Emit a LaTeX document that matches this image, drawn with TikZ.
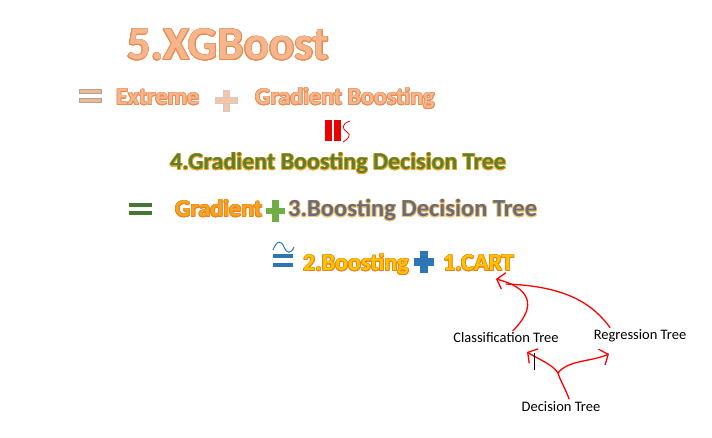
\documentclass[tikz,border=0pt]{standalone}
\usepackage{fontspec}
\setmainfont{Carlito}
\usepackage{contour}
\contourlength{0.7pt}
\usetikzlibrary{positioning,calc,arrows.meta}

\definecolor{peach}{RGB}{245,182,142}
\definecolor{peachline}{RGB}{232,140,82}
\definecolor{gbdtgreen}{RGB}{84,130,53}
\definecolor{gradorange}{RGB}{246,165,35}
\definecolor{orangeline}{RGB}{235,130,30}
\definecolor{slate}{RGB}{98,108,130}
\definecolor{cartyellow}{RGB}{255,196,0}
\definecolor{plusgreen}{RGB}{112,173,71}
\definecolor{eqgreen}{RGB}{70,120,50}
\definecolor{bluemark}{RGB}{46,117,182}
\definecolor{redmark}{RGB}{235,0,0}

\begin{document}
\begin{tikzpicture}[x=1pt,y=-1pt,
	word/.style={inner sep=0pt,anchor=base west,font=\bfseries\fontsize{24}{26}\selectfont},
	label/.style={inner sep=0pt,font=\fontsize{14.5}{16}\selectfont},
	hand/.style={draw=red,line width=1.3pt,line cap=round,line join=round},
	handarrow/.style={hand,-{Straight Barb[length=7pt,width=17pt,line width=1.3pt]}}]
		\useasboundingbox (0,0) rectangle (712,438);
		% row 5
		\node[word,font=\bfseries\fontsize{47}{52}\selectfont] (xgb) at (127,60) {\contour{peachline}{\textcolor{peach}{5.XGBoost}}};
		% row = Extreme + Gradient Boosting
		\draw[fill=peach,draw=gray!70] (79,89) rectangle (101,93);
		\draw[fill=peach,draw=gray!70] (79,98) rectangle (101,102);
		\node[word] (ext) at (116,105) {\contour{peachline}{\textcolor{peach}{Extreme}}};
		\draw[fill=peach!80,draw=gray!40] (223,90) rectangle (229,111);
		\draw[fill=peach!80,draw=gray!40] (215,97) rectangle (237,103);
		\node[word] (gbst) at (255,105) {\contour{peachline}{\textcolor{peach}{Gradient Boosting}}};
		% red mark
		\fill[redmark] (325,120) rectangle (332,141);
		\fill[redmark] (334,120) rectangle (341,141);
		\draw[redmark,line width=0.8pt] (350,121) .. controls (341,124) and (342,129) .. (347,132) .. controls (352,135) and (348,139) .. (343,142);
		% row 4
		\node[word] (gbdt) at (170,170) {\contour{gradorange}{\textcolor{gbdtgreen}{4.Gradient Boosting Decision Tree}}};
		% row = Gradient + 3.Boosting Decision Tree
		\fill[eqgreen] (129,203) rectangle (152,207);
		\fill[eqgreen] (129,211) rectangle (152,215);
		\node[word] (grad) at (175,217) {\contour{orangeline}{\textcolor{gradorange}{Gradient}}};
		\fill[plusgreen] (272,200) rectangle (279,222);
		\fill[plusgreen] (266,208) rectangle (285,214);
		\node[word,font=\bfseries\fontsize{24.5}{26}\selectfont] (bdt) at (288,217) {\contour{gradorange!70}{\textcolor{slate}{3.Boosting Decision Tree}}};
		% row 2.Boosting + 1.CART
		\draw[bluemark,line width=1pt] (273,250) .. controls (277,240) and (281,240) .. (284,247) .. controls (287,254) and (291,254) .. (294,247);
		\fill[bluemark] (273,254) rectangle (293,258);
		\fill[bluemark] (273,263) rectangle (293,267);
		\node[word] (bst) at (303,271) {\contour{orangeline}{\textcolor{cartyellow}{2.Boosting}}};
		\fill[bluemark] (420,251) rectangle (428,273);
		\fill[bluemark] (414,258) rectangle (434,266);
		\node[word] (cart) at (443,271) {\contour{orangeline}{\textcolor{cartyellow}{1.CART}}};
		% trees
		\node[label] (cls) at (506,338) {Classification Tree};
		\node[label] (reg) at (640,336) {Regression Tree};
		\node[label] (dt) at (561,407) {Decision Tree};
		\coordinate (cartin) at (496,279);
		\coordinate (fork) at (558,373);
		\draw[handarrow] (cls.north east) ++(-46,-2) .. controls (532,312) and (538,290) .. (cartin);
		\draw[hand] (reg.north) ++(-30,-2) .. controls (590,300) and (560,286) .. (506,284);
		\draw[hand] (dt.north) ++(8,-3) .. controls (566,390) and (560,380) .. (fork);
		\draw[handarrow] (fork) .. controls (552,364) and (540,360) .. (527,352);
		\draw[handarrow] (fork) .. controls (568,360) and (590,362) .. (609,354);
		\draw[black,line width=0.6pt] (534,353) -- (534,370);
\end{tikzpicture}
\end{document}
